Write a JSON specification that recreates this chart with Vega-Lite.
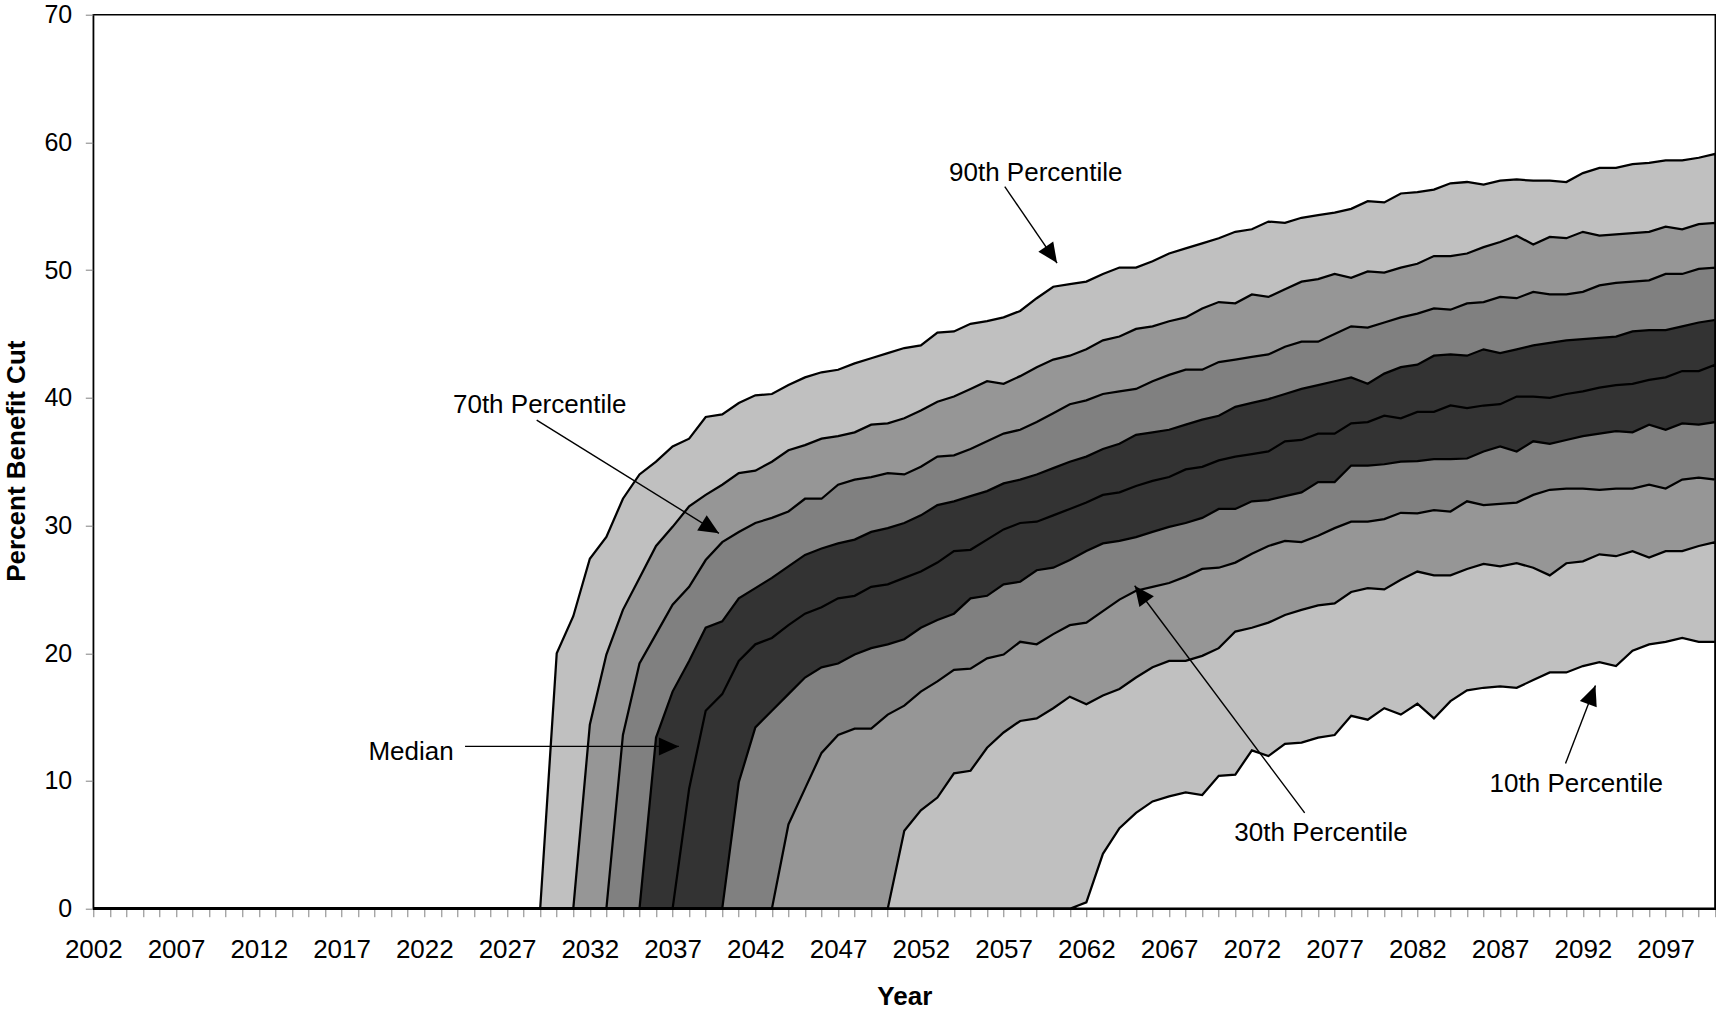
{
  "$schema": "https://vega.github.io/schema/vega-lite/v6.json",
  "width": 1622,
  "height": 894,
  "autosize": {"type": "none"},
  "padding": {"left": 93.3, "top": 14.7, "right": 0.7, "bottom": 104.3},
  "background": "white",
  "config": {
    "font": "Liberation Sans",
    "view": {"stroke": "black", "strokeWidth": 1.5}
  },
  "datasets": {
    "bands": [
      {"year": 2002, "p10": 0, "p20": 0, "p30": 0, "p40": 0, "p50": 0, "p60": 0, "p70": 0, "p80": 0, "p90": 0},
      {"year": 2003, "p10": 0, "p20": 0, "p30": 0, "p40": 0, "p50": 0, "p60": 0, "p70": 0, "p80": 0, "p90": 0},
      {"year": 2004, "p10": 0, "p20": 0, "p30": 0, "p40": 0, "p50": 0, "p60": 0, "p70": 0, "p80": 0, "p90": 0},
      {"year": 2005, "p10": 0, "p20": 0, "p30": 0, "p40": 0, "p50": 0, "p60": 0, "p70": 0, "p80": 0, "p90": 0},
      {"year": 2006, "p10": 0, "p20": 0, "p30": 0, "p40": 0, "p50": 0, "p60": 0, "p70": 0, "p80": 0, "p90": 0},
      {"year": 2007, "p10": 0, "p20": 0, "p30": 0, "p40": 0, "p50": 0, "p60": 0, "p70": 0, "p80": 0, "p90": 0},
      {"year": 2008, "p10": 0, "p20": 0, "p30": 0, "p40": 0, "p50": 0, "p60": 0, "p70": 0, "p80": 0, "p90": 0},
      {"year": 2009, "p10": 0, "p20": 0, "p30": 0, "p40": 0, "p50": 0, "p60": 0, "p70": 0, "p80": 0, "p90": 0},
      {"year": 2010, "p10": 0, "p20": 0, "p30": 0, "p40": 0, "p50": 0, "p60": 0, "p70": 0, "p80": 0, "p90": 0},
      {"year": 2011, "p10": 0, "p20": 0, "p30": 0, "p40": 0, "p50": 0, "p60": 0, "p70": 0, "p80": 0, "p90": 0},
      {"year": 2012, "p10": 0, "p20": 0, "p30": 0, "p40": 0, "p50": 0, "p60": 0, "p70": 0, "p80": 0, "p90": 0},
      {"year": 2013, "p10": 0, "p20": 0, "p30": 0, "p40": 0, "p50": 0, "p60": 0, "p70": 0, "p80": 0, "p90": 0},
      {"year": 2014, "p10": 0, "p20": 0, "p30": 0, "p40": 0, "p50": 0, "p60": 0, "p70": 0, "p80": 0, "p90": 0},
      {"year": 2015, "p10": 0, "p20": 0, "p30": 0, "p40": 0, "p50": 0, "p60": 0, "p70": 0, "p80": 0, "p90": 0},
      {"year": 2016, "p10": 0, "p20": 0, "p30": 0, "p40": 0, "p50": 0, "p60": 0, "p70": 0, "p80": 0, "p90": 0},
      {"year": 2017, "p10": 0, "p20": 0, "p30": 0, "p40": 0, "p50": 0, "p60": 0, "p70": 0, "p80": 0, "p90": 0},
      {"year": 2018, "p10": 0, "p20": 0, "p30": 0, "p40": 0, "p50": 0, "p60": 0, "p70": 0, "p80": 0, "p90": 0},
      {"year": 2019, "p10": 0, "p20": 0, "p30": 0, "p40": 0, "p50": 0, "p60": 0, "p70": 0, "p80": 0, "p90": 0},
      {"year": 2020, "p10": 0, "p20": 0, "p30": 0, "p40": 0, "p50": 0, "p60": 0, "p70": 0, "p80": 0, "p90": 0},
      {"year": 2021, "p10": 0, "p20": 0, "p30": 0, "p40": 0, "p50": 0, "p60": 0, "p70": 0, "p80": 0, "p90": 0},
      {"year": 2022, "p10": 0, "p20": 0, "p30": 0, "p40": 0, "p50": 0, "p60": 0, "p70": 0, "p80": 0, "p90": 0},
      {"year": 2023, "p10": 0, "p20": 0, "p30": 0, "p40": 0, "p50": 0, "p60": 0, "p70": 0, "p80": 0, "p90": 0},
      {"year": 2024, "p10": 0, "p20": 0, "p30": 0, "p40": 0, "p50": 0, "p60": 0, "p70": 0, "p80": 0, "p90": 0},
      {"year": 2025, "p10": 0, "p20": 0, "p30": 0, "p40": 0, "p50": 0, "p60": 0, "p70": 0, "p80": 0, "p90": 0},
      {"year": 2026, "p10": 0, "p20": 0, "p30": 0, "p40": 0, "p50": 0, "p60": 0, "p70": 0, "p80": 0, "p90": 0},
      {"year": 2027, "p10": 0, "p20": 0, "p30": 0, "p40": 0, "p50": 0, "p60": 0, "p70": 0, "p80": 0, "p90": 0},
      {"year": 2028, "p10": 0, "p20": 0, "p30": 0, "p40": 0, "p50": 0, "p60": 0, "p70": 0, "p80": 0, "p90": 0},
      {"year": 2029, "p10": 0, "p20": 0, "p30": 0, "p40": 0, "p50": 0, "p60": 0, "p70": 0, "p80": 0, "p90": 0},
      {"year": 2030, "p10": 0, "p20": 0, "p30": 0, "p40": 0, "p50": 0, "p60": 0, "p70": 0, "p80": 0, "p90": 20.0},
      {"year": 2031, "p10": 0, "p20": 0, "p30": 0, "p40": 0, "p50": 0, "p60": 0, "p70": 0, "p80": 0, "p90": 22.9},
      {"year": 2032, "p10": 0, "p20": 0, "p30": 0, "p40": 0, "p50": 0, "p60": 0, "p70": 0, "p80": 14.4, "p90": 27.4},
      {"year": 2033, "p10": 0, "p20": 0, "p30": 0, "p40": 0, "p50": 0, "p60": 0, "p70": 0, "p80": 19.9, "p90": 29.1},
      {"year": 2034, "p10": 0, "p20": 0, "p30": 0, "p40": 0, "p50": 0, "p60": 0, "p70": 13.6, "p80": 23.4, "p90": 32.1},
      {"year": 2035, "p10": 0, "p20": 0, "p30": 0, "p40": 0, "p50": 0, "p60": 0, "p70": 19.2, "p80": 25.9, "p90": 34.0},
      {"year": 2036, "p10": 0, "p20": 0, "p30": 0, "p40": 0, "p50": 0, "p60": 13.4, "p70": 21.5, "p80": 28.4, "p90": 35.0},
      {"year": 2037, "p10": 0, "p20": 0, "p30": 0, "p40": 0, "p50": 0, "p60": 17.0, "p70": 23.8, "p80": 29.9, "p90": 36.2},
      {"year": 2038, "p10": 0, "p20": 0, "p30": 0, "p40": 0, "p50": 9.4, "p60": 19.4, "p70": 25.2, "p80": 31.5, "p90": 36.8},
      {"year": 2039, "p10": 0, "p20": 0, "p30": 0, "p40": 0, "p50": 15.5, "p60": 22.0, "p70": 27.3, "p80": 32.4, "p90": 38.5},
      {"year": 2040, "p10": 0, "p20": 0, "p30": 0, "p40": 0, "p50": 16.8, "p60": 22.5, "p70": 28.7, "p80": 33.2, "p90": 38.7},
      {"year": 2041, "p10": 0, "p20": 0, "p30": 0, "p40": 9.9, "p50": 19.4, "p60": 24.3, "p70": 29.5, "p80": 34.1, "p90": 39.6},
      {"year": 2042, "p10": 0, "p20": 0, "p30": 0, "p40": 14.2, "p50": 20.7, "p60": 25.1, "p70": 30.2, "p80": 34.3, "p90": 40.2},
      {"year": 2043, "p10": 0, "p20": 0, "p30": 0, "p40": 15.5, "p50": 21.2, "p60": 25.9, "p70": 30.6, "p80": 35.0, "p90": 40.3},
      {"year": 2044, "p10": 0, "p20": 0, "p30": 6.6, "p40": 16.8, "p50": 22.2, "p60": 26.8, "p70": 31.1, "p80": 35.9, "p90": 41.0},
      {"year": 2045, "p10": 0, "p20": 0, "p30": 9.4, "p40": 18.1, "p50": 23.1, "p60": 27.7, "p70": 32.1, "p80": 36.3, "p90": 41.6},
      {"year": 2046, "p10": 0, "p20": 0, "p30": 12.2, "p40": 18.9, "p50": 23.6, "p60": 28.2, "p70": 32.1, "p80": 36.8, "p90": 42.0},
      {"year": 2047, "p10": 0, "p20": 0, "p30": 13.6, "p40": 19.2, "p50": 24.3, "p60": 28.6, "p70": 33.2, "p80": 37.0, "p90": 42.2},
      {"year": 2048, "p10": 0, "p20": 0, "p30": 14.1, "p40": 19.9, "p50": 24.5, "p60": 28.9, "p70": 33.6, "p80": 37.3, "p90": 42.7},
      {"year": 2049, "p10": 0, "p20": 0, "p30": 14.1, "p40": 20.4, "p50": 25.2, "p60": 29.5, "p70": 33.8, "p80": 37.9, "p90": 43.1},
      {"year": 2050, "p10": 0, "p20": 0, "p30": 15.2, "p40": 20.7, "p50": 25.4, "p60": 29.8, "p70": 34.1, "p80": 38.0, "p90": 43.5},
      {"year": 2051, "p10": 0, "p20": 6.1, "p30": 15.9, "p40": 21.1, "p50": 25.9, "p60": 30.2, "p70": 34.0, "p80": 38.4, "p90": 43.9},
      {"year": 2052, "p10": 0, "p20": 7.7, "p30": 17.0, "p40": 22.0, "p50": 26.4, "p60": 30.8, "p70": 34.6, "p80": 39.0, "p90": 44.1},
      {"year": 2053, "p10": 0, "p20": 8.7, "p30": 17.8, "p40": 22.6, "p50": 27.1, "p60": 31.6, "p70": 35.4, "p80": 39.7, "p90": 45.1},
      {"year": 2054, "p10": 0, "p20": 10.6, "p30": 18.7, "p40": 23.1, "p50": 28.0, "p60": 31.9, "p70": 35.5, "p80": 40.1, "p90": 45.2},
      {"year": 2055, "p10": 0, "p20": 10.8, "p30": 18.8, "p40": 24.3, "p50": 28.1, "p60": 32.3, "p70": 36.0, "p80": 40.7, "p90": 45.8},
      {"year": 2056, "p10": 0, "p20": 12.6, "p30": 19.6, "p40": 24.5, "p50": 28.9, "p60": 32.7, "p70": 36.6, "p80": 41.3, "p90": 46.0},
      {"year": 2057, "p10": 0, "p20": 13.8, "p30": 19.9, "p40": 25.4, "p50": 29.7, "p60": 33.3, "p70": 37.2, "p80": 41.1, "p90": 46.3},
      {"year": 2058, "p10": 0, "p20": 14.7, "p30": 20.9, "p40": 25.6, "p50": 30.2, "p60": 33.6, "p70": 37.5, "p80": 41.7, "p90": 46.8},
      {"year": 2059, "p10": 0, "p20": 14.9, "p30": 20.7, "p40": 26.5, "p50": 30.3, "p60": 34.0, "p70": 38.1, "p80": 42.4, "p90": 47.8},
      {"year": 2060, "p10": 0, "p20": 15.7, "p30": 21.5, "p40": 26.7, "p50": 30.8, "p60": 34.5, "p70": 38.8, "p80": 43.0, "p90": 48.7},
      {"year": 2061, "p10": 0, "p20": 16.6, "p30": 22.2, "p40": 27.3, "p50": 31.3, "p60": 35.0, "p70": 39.5, "p80": 43.3, "p90": 48.9},
      {"year": 2062, "p10": 0.5, "p20": 16.0, "p30": 22.4, "p40": 28.0, "p50": 31.8, "p60": 35.4, "p70": 39.8, "p80": 43.8, "p90": 49.1},
      {"year": 2063, "p10": 4.3, "p20": 16.7, "p30": 23.3, "p40": 28.6, "p50": 32.4, "p60": 36.0, "p70": 40.3, "p80": 44.5, "p90": 49.7},
      {"year": 2064, "p10": 6.3, "p20": 17.2, "p30": 24.2, "p40": 28.8, "p50": 32.6, "p60": 36.4, "p70": 40.5, "p80": 44.8, "p90": 50.2},
      {"year": 2065, "p10": 7.5, "p20": 18.1, "p30": 24.9, "p40": 29.1, "p50": 33.1, "p60": 37.1, "p70": 40.7, "p80": 45.4, "p90": 50.2},
      {"year": 2066, "p10": 8.4, "p20": 18.9, "p30": 25.2, "p40": 29.5, "p50": 33.5, "p60": 37.3, "p70": 41.3, "p80": 45.6, "p90": 50.7},
      {"year": 2067, "p10": 8.8, "p20": 19.4, "p30": 25.5, "p40": 29.9, "p50": 33.8, "p60": 37.5, "p70": 41.8, "p80": 46.0, "p90": 51.3},
      {"year": 2068, "p10": 9.1, "p20": 19.4, "p30": 26.0, "p40": 30.2, "p50": 34.4, "p60": 37.9, "p70": 42.2, "p80": 46.3, "p90": 51.7},
      {"year": 2069, "p10": 8.9, "p20": 19.8, "p30": 26.6, "p40": 30.6, "p50": 34.6, "p60": 38.3, "p70": 42.2, "p80": 47.0, "p90": 52.1},
      {"year": 2070, "p10": 10.4, "p20": 20.4, "p30": 26.7, "p40": 31.3, "p50": 35.1, "p60": 38.6, "p70": 42.8, "p80": 47.5, "p90": 52.5},
      {"year": 2071, "p10": 10.5, "p20": 21.7, "p30": 27.1, "p40": 31.3, "p50": 35.4, "p60": 39.3, "p70": 43.0, "p80": 47.4, "p90": 53.0},
      {"year": 2072, "p10": 12.4, "p20": 22.0, "p30": 27.8, "p40": 31.9, "p50": 35.6, "p60": 39.6, "p70": 43.2, "p80": 48.1, "p90": 53.2},
      {"year": 2073, "p10": 11.95, "p20": 22.4, "p30": 28.4, "p40": 32.0, "p50": 35.8, "p60": 39.9, "p70": 43.4, "p80": 47.9, "p90": 53.8},
      {"year": 2074, "p10": 12.9, "p20": 23.0, "p30": 28.8, "p40": 32.3, "p50": 36.6, "p60": 40.3, "p70": 44.0, "p80": 48.5, "p90": 53.7},
      {"year": 2075, "p10": 13.0, "p20": 23.4, "p30": 28.7, "p40": 32.6, "p50": 36.7, "p60": 40.7, "p70": 44.4, "p80": 49.1, "p90": 54.1},
      {"year": 2076, "p10": 13.4, "p20": 23.75, "p30": 29.2, "p40": 33.4, "p50": 37.2, "p60": 41.0, "p70": 44.4, "p80": 49.3, "p90": 54.3},
      {"year": 2077, "p10": 13.6, "p20": 23.9, "p30": 29.8, "p40": 33.4, "p50": 37.2, "p60": 41.3, "p70": 45.0, "p80": 49.7, "p90": 54.5},
      {"year": 2078, "p10": 15.1, "p20": 24.8, "p30": 30.3, "p40": 34.7, "p50": 38.0, "p60": 41.6, "p70": 45.6, "p80": 49.4, "p90": 54.8},
      {"year": 2079, "p10": 14.8, "p20": 25.1, "p30": 30.3, "p40": 34.7, "p50": 38.1, "p60": 41.1, "p70": 45.5, "p80": 49.9, "p90": 55.4},
      {"year": 2080, "p10": 15.7, "p20": 25.0, "p30": 30.5, "p40": 34.8, "p50": 38.6, "p60": 41.9, "p70": 45.9, "p80": 49.8, "p90": 55.3},
      {"year": 2081, "p10": 15.2, "p20": 25.75, "p30": 31.0, "p40": 35.0, "p50": 38.4, "p60": 42.4, "p70": 46.3, "p80": 50.2, "p90": 56.0},
      {"year": 2082, "p10": 16.05, "p20": 26.4, "p30": 30.95, "p40": 35.05, "p50": 38.9, "p60": 42.6, "p70": 46.6, "p80": 50.5, "p90": 56.1},
      {"year": 2083, "p10": 14.9, "p20": 26.1, "p30": 31.2, "p40": 35.2, "p50": 38.9, "p60": 43.3, "p70": 47.0, "p80": 51.1, "p90": 56.3},
      {"year": 2084, "p10": 16.25, "p20": 26.1, "p30": 31.1, "p40": 35.2, "p50": 39.4, "p60": 43.4, "p70": 46.9, "p80": 51.1, "p90": 56.8},
      {"year": 2085, "p10": 17.1, "p20": 26.6, "p30": 31.9, "p40": 35.25, "p50": 39.2, "p60": 43.3, "p70": 47.4, "p80": 51.3, "p90": 56.9},
      {"year": 2086, "p10": 17.3, "p20": 27.0, "p30": 31.6, "p40": 35.8, "p50": 39.4, "p60": 43.8, "p70": 47.5, "p80": 51.8, "p90": 56.7},
      {"year": 2087, "p10": 17.4, "p20": 26.8, "p30": 31.7, "p40": 36.2, "p50": 39.5, "p60": 43.5, "p70": 47.9, "p80": 52.2, "p90": 57.0},
      {"year": 2088, "p10": 17.3, "p20": 27.05, "p30": 31.8, "p40": 35.8, "p50": 40.1, "p60": 43.8, "p70": 47.8, "p80": 52.7, "p90": 57.1},
      {"year": 2089, "p10": 17.9, "p20": 26.7, "p30": 32.4, "p40": 36.6, "p50": 40.1, "p60": 44.1, "p70": 48.3, "p80": 52.0, "p90": 57.0},
      {"year": 2090, "p10": 18.5, "p20": 26.1, "p30": 32.8, "p40": 36.4, "p50": 40.0, "p60": 44.3, "p70": 48.1, "p80": 52.6, "p90": 57.0},
      {"year": 2091, "p10": 18.5, "p20": 27.05, "p30": 32.9, "p40": 36.7, "p50": 40.3, "p60": 44.5, "p70": 48.1, "p80": 52.5, "p90": 56.9},
      {"year": 2092, "p10": 19.0, "p20": 27.2, "p30": 32.9, "p40": 37.0, "p50": 40.5, "p60": 44.6, "p70": 48.3, "p80": 53.0, "p90": 57.6},
      {"year": 2093, "p10": 19.3, "p20": 27.75, "p30": 32.8, "p40": 37.2, "p50": 40.8, "p60": 44.7, "p70": 48.8, "p80": 52.7, "p90": 58.0},
      {"year": 2094, "p10": 19.0, "p20": 27.6, "p30": 32.9, "p40": 37.4, "p50": 41.0, "p60": 44.8, "p70": 49.0, "p80": 52.8, "p90": 58.0},
      {"year": 2095, "p10": 20.2, "p20": 28.0, "p30": 32.9, "p40": 37.3, "p50": 41.1, "p60": 45.2, "p70": 49.1, "p80": 52.9, "p90": 58.3},
      {"year": 2096, "p10": 20.7, "p20": 27.5, "p30": 33.2, "p40": 37.9, "p50": 41.4, "p60": 45.3, "p70": 49.2, "p80": 53.0, "p90": 58.4},
      {"year": 2097, "p10": 20.9, "p20": 28.0, "p30": 32.9, "p40": 37.5, "p50": 41.6, "p60": 45.3, "p70": 49.7, "p80": 53.4, "p90": 58.6},
      {"year": 2098, "p10": 21.2, "p20": 28.0, "p30": 33.6, "p40": 38.0, "p50": 42.1, "p60": 45.6, "p70": 49.7, "p80": 53.2, "p90": 58.6},
      {"year": 2099, "p10": 20.9, "p20": 28.4, "p30": 33.75, "p40": 37.9, "p50": 42.1, "p60": 45.9, "p70": 50.1, "p80": 53.6, "p90": 58.8},
      {"year": 2100, "p10": 20.9, "p20": 28.7, "p30": 33.6, "p40": 38.1, "p50": 42.6, "p60": 46.1, "p70": 50.2, "p80": 53.7, "p90": 59.1}
    ],
    "notes": [
      {"label": "90th Percentile", "year": 2058.94, "value": 57.6},
      {"label": "70th Percentile", "year": 2028.97, "value": 39.45},
      {"label": "Median", "year": 2021.2, "value": 12.3},
      {"label": "30th Percentile", "year": 2076.18, "value": 5.9},
      {"label": "10th Percentile", "year": 2091.6, "value": 9.8}
    ],
    "arrows": [
      {"name": "p90", "year": 2057.07, "value": 56.54, "year2": 2060.23, "value2": 50.55},
      {"name": "p70", "year": 2028.79, "value": 38.26, "year2": 2039.8, "value2": 29.39},
      {"name": "p50", "year": 2024.46, "value": 12.71, "year2": 2037.38, "value2": 12.71},
      {"name": "p30", "year": 2075.19, "value": 7.5, "year2": 2064.92, "value2": 25.29},
      {"name": "p10", "year": 2090.95, "value": 11.36, "year2": 2092.76, "value2": 17.48}
    ],
    "baseline": [{"value": 0}]
  },
  "encoding": {
    "x": {
      "field": "year",
      "type": "quantitative",
      "scale": {"domain": [2002, 2100], "nice": false, "zero": false},
      "axis": {
        "title": "Year",
        "titleFontSize": 26,
        "titleFontWeight": "bold",
        "titleColor": "black",
        "titleY": 74.3,
        "titleBaseline": "top",
        "values": [2002, 2003, 2004, 2005, 2006, 2007, 2008, 2009, 2010, 2011, 2012, 2013, 2014, 2015, 2016, 2017, 2018, 2019, 2020, 2021, 2022, 2023, 2024, 2025, 2026, 2027, 2028, 2029, 2030, 2031, 2032, 2033, 2034, 2035, 2036, 2037, 2038, 2039, 2040, 2041, 2042, 2043, 2044, 2045, 2046, 2047, 2048, 2049, 2050, 2051, 2052, 2053, 2054, 2055, 2056, 2057, 2058, 2059, 2060, 2061, 2062, 2063, 2064, 2065, 2066, 2067, 2068, 2069, 2070, 2071, 2072, 2073, 2074, 2075, 2076, 2077, 2078, 2079, 2080, 2081, 2082, 2083, 2084, 2085, 2086, 2087, 2088, 2089, 2090, 2091, 2092, 2093, 2094, 2095, 2096, 2097, 2098, 2099, 2100],
        "format": "d",
        "labelExpr": "(datum.value - 2002) % 5 === 0 ? datum.label : ''",
        "labelFontSize": 26,
        "labelColor": "black",
        "labelPadding": 20,
        "labelOverlap": false,
        "labelFlush": false,
        "tickSize": 8,
        "tickColor": "#808080",
        "tickWidth": 1,
        "domainColor": "black",
        "grid": false
      }
    }
  },
  "layer": [
    {
      "data": {"name": "bands"},
      "mark": {"type": "area", "fill": "#c0c0c0", "stroke": "black", "strokeWidth": 2.25},
      "encoding": {
        "y": {
          "field": "p90",
          "type": "quantitative",
          "scale": {"domain": [0, 70], "nice": false},
          "axis": {
            "title": "Percent Benefit Cut",
            "titleFontSize": 26,
            "titleFontWeight": "bold",
            "titleColor": "black",
            "titleAngle": -90,
            "titleX": -69.3,
            "titleY": 446,
            "titleAlign": "center",
            "titleBaseline": "alphabetic",
            "values": [0, 10, 20, 30, 40, 50, 60, 70],
            "labelFontSize": 25,
            "labelColor": "black",
            "labelPadding": 13.6,
            "tickSize": 8,
            "tickColor": "#808080",
            "tickWidth": 1,
            "domainColor": "black",
            "grid": false
          }
        }
      }
    },
    {
      "data": {"name": "bands"},
      "mark": {"type": "area", "fill": "#969696", "stroke": "black", "strokeWidth": 2.25},
      "encoding": {"y": {"field": "p80", "type": "quantitative", "scale": {"domain": [0, 70], "nice": false}}}
    },
    {
      "data": {"name": "bands"},
      "mark": {"type": "area", "fill": "#808080", "stroke": "black", "strokeWidth": 2.25},
      "encoding": {"y": {"field": "p70", "type": "quantitative", "scale": {"domain": [0, 70], "nice": false}}}
    },
    {
      "data": {"name": "bands"},
      "mark": {"type": "area", "fill": "#333333", "stroke": "black", "strokeWidth": 2.25},
      "encoding": {"y": {"field": "p60", "type": "quantitative", "scale": {"domain": [0, 70], "nice": false}}}
    },
    {
      "data": {"name": "bands"},
      "mark": {"type": "area", "fill": "#333333", "stroke": "black", "strokeWidth": 2.25},
      "encoding": {"y": {"field": "p50", "type": "quantitative", "scale": {"domain": [0, 70], "nice": false}}}
    },
    {
      "data": {"name": "bands"},
      "mark": {"type": "area", "fill": "#808080", "stroke": "black", "strokeWidth": 2.25},
      "encoding": {"y": {"field": "p40", "type": "quantitative", "scale": {"domain": [0, 70], "nice": false}}}
    },
    {
      "data": {"name": "bands"},
      "mark": {"type": "area", "fill": "#969696", "stroke": "black", "strokeWidth": 2.25},
      "encoding": {"y": {"field": "p30", "type": "quantitative", "scale": {"domain": [0, 70], "nice": false}}}
    },
    {
      "data": {"name": "bands"},
      "mark": {"type": "area", "fill": "#c0c0c0", "stroke": "black", "strokeWidth": 2.25},
      "encoding": {"y": {"field": "p20", "type": "quantitative", "scale": {"domain": [0, 70], "nice": false}}}
    },
    {
      "data": {"name": "bands"},
      "mark": {"type": "area", "fill": "white", "stroke": "black", "strokeWidth": 2.25},
      "encoding": {"y": {"field": "p10", "type": "quantitative", "scale": {"domain": [0, 70], "nice": false}}}
    },
    {
      "data": {"name": "baseline"},
      "mark": {"type": "rule", "color": "black", "strokeWidth": 4},
      "encoding": {
        "x": {"datum": 2002, "type": "quantitative"},
        "x2": {"datum": 2100},
        "y": {"field": "value", "type": "quantitative", "scale": {"domain": [0, 70], "nice": false}}
      }
    },
    {
      "data": {"name": "notes"},
      "mark": {"type": "text", "fontSize": 26, "color": "black", "align": "center", "baseline": "middle"},
      "encoding": {
        "y": {"field": "value", "type": "quantitative", "scale": {"domain": [0, 70], "nice": false}},
        "text": {"field": "label"}
      }
    },
    {
      "data": {"name": "arrows"},
      "mark": {"type": "rule", "color": "black", "strokeWidth": 1.4},
      "encoding": {
        "y": {"field": "value", "type": "quantitative", "scale": {"domain": [0, 70], "nice": false}},
        "x2": {"field": "year2"},
        "y2": {"field": "value2"}
      }
    },
    {
      "data": {"name": "arrows"},
      "transform": [{"filter": "datum.name === 'p90'"}],
      "mark": {"type": "point", "shape": "M0,0L0.45,1L-0.45,1Z", "filled": true, "color": "black", "opacity": 1, "size": 1600, "angle": 145.7},
      "encoding": {
        "x": {"field": "year2", "type": "quantitative"},
        "y": {"field": "value2", "type": "quantitative", "scale": {"domain": [0, 70], "nice": false}}
      }
    },
    {
      "data": {"name": "arrows"},
      "transform": [{"filter": "datum.name === 'p70'"}],
      "mark": {"type": "point", "shape": "M0,0L0.45,1L-0.45,1Z", "filled": true, "color": "black", "opacity": 1, "size": 1600, "angle": 121.9},
      "encoding": {
        "x": {"field": "year2", "type": "quantitative"},
        "y": {"field": "value2", "type": "quantitative", "scale": {"domain": [0, 70], "nice": false}}
      }
    },
    {
      "data": {"name": "arrows"},
      "transform": [{"filter": "datum.name === 'p50'"}],
      "mark": {"type": "point", "shape": "M0,0L0.45,1L-0.45,1Z", "filled": true, "color": "black", "opacity": 1, "size": 1600, "angle": 90},
      "encoding": {
        "x": {"field": "year2", "type": "quantitative"},
        "y": {"field": "value2", "type": "quantitative", "scale": {"domain": [0, 70], "nice": false}}
      }
    },
    {
      "data": {"name": "arrows"},
      "transform": [{"filter": "datum.name === 'p30'"}],
      "mark": {"type": "point", "shape": "M0,0L0.45,1L-0.45,1Z", "filled": true, "color": "black", "opacity": 1, "size": 1600, "angle": 323.3},
      "encoding": {
        "x": {"field": "year2", "type": "quantitative"},
        "y": {"field": "value2", "type": "quantitative", "scale": {"domain": [0, 70], "nice": false}}
      }
    },
    {
      "data": {"name": "arrows"},
      "transform": [{"filter": "datum.name === 'p10'"}],
      "mark": {"type": "point", "shape": "M0,0L0.45,1L-0.45,1Z", "filled": true, "color": "black", "opacity": 1, "size": 1600, "angle": 21.0},
      "encoding": {
        "x": {"field": "year2", "type": "quantitative"},
        "y": {"field": "value2", "type": "quantitative", "scale": {"domain": [0, 70], "nice": false}}
      }
    }
  ]
}
